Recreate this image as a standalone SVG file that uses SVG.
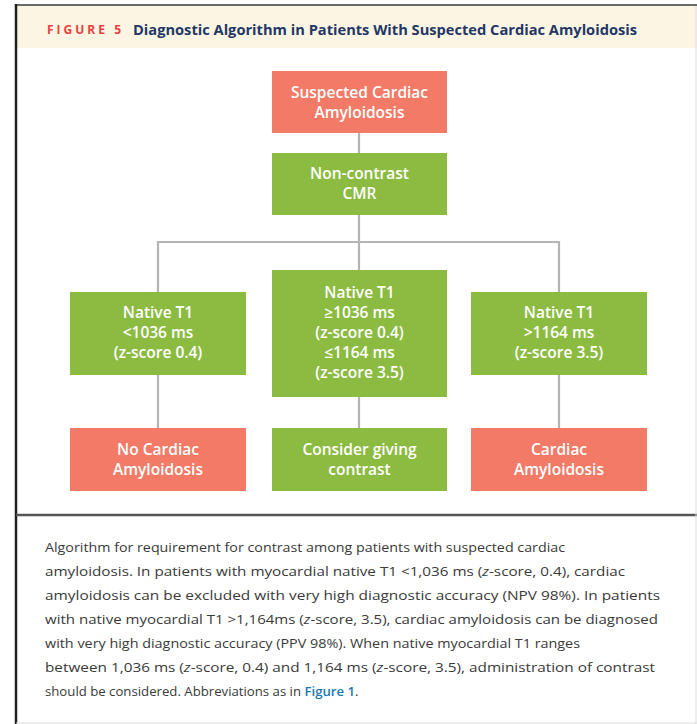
<svg xmlns="http://www.w3.org/2000/svg" width="697" height="724" viewBox="0 0 697 724">
<style>
.red{fill:#f27a67}
.grn{fill:#8cbb42}
.nt{font-family:"Open Sans","Liberation Sans",sans-serif;font-weight:600;font-size:15.5px;fill:#ffffff;text-anchor:middle}
.conn{stroke:#b4b4b4;stroke-width:2.2;fill:none}
.cap{font-family:"Open Sans","Liberation Sans",sans-serif;font-size:13.2px;fill:#3a3a3a}
.lnk{fill:#1a78b4;font-weight:600}
.it{font-style:italic}
</style>
<rect x="0" y="0" width="697" height="724" fill="#ffffff"/>
<g id="frame">
<rect x="17" y="6" width="680" height="42" fill="#fdf5e3"/>
<line x1="16" y1="5" x2="697" y2="5" stroke="#6a6a6a" stroke-width="2"/>
<line x1="16" y1="4" x2="16" y2="724" stroke="#1e1e1e" stroke-width="2.5"/>
<line x1="16" y1="515" x2="697" y2="515" stroke="#555555" stroke-width="2.5"/>
<line x1="696" y1="6" x2="696" y2="724" stroke="#dddddd" stroke-width="1"/>
<line x1="16" y1="723" x2="697" y2="723" stroke="#dddddd" stroke-width="1"/>
</g>
<g id="title">
<text x="47" y="34" font-family="'Open Sans','Liberation Sans',sans-serif" font-weight="700" font-size="12" fill="#e8403f" textLength="74" lengthAdjust="spacing">FIGURE 5</text>
<text x="133" y="34.5" font-family="'Open Sans','Liberation Sans',sans-serif" font-weight="700" font-size="13.5" fill="#1f3866" textLength="504" lengthAdjust="spacingAndGlyphs">Diagnostic Algorithm in Patients With Suspected Cardiac Amyloidosis</text>
</g>
<g id="connectors">
<line class="conn" x1="359" y1="133" x2="359" y2="153"/>
<line class="conn" x1="359" y1="215" x2="359" y2="270"/>
<polyline class="conn" points="158,292 158,242 559,242 559,292"/>
<line class="conn" x1="158" y1="375" x2="158" y2="428"/>
<line class="conn" x1="359" y1="397" x2="359" y2="428"/>
<line class="conn" x1="559" y1="375" x2="559" y2="428"/>
</g>
<g id="n-suspected">
<rect class="red" x="272" y="71" width="175" height="62"/>
<text class="nt" x="359.5" y="98">Suspected Cardiac</text>
<text class="nt" x="359.5" y="118">Amyloidosis</text>
</g>
<g id="n-noncontrast">
<rect class="grn" x="272" y="153" width="175" height="62"/>
<text class="nt" x="359.5" y="179">Non-contrast</text>
<text class="nt" x="359.5" y="199">CMR</text>
</g>
<g id="n-low">
<rect class="grn" x="70" y="292" width="176" height="83"/>
<text class="nt" x="158" y="318">Native T1</text>
<text class="nt" x="158" y="338">&lt;1036 ms</text>
<text class="nt" x="158" y="358">(z-score 0.4)</text>
</g>
<g id="n-mid">
<rect class="grn" x="272" y="270" width="175" height="127"/>
<text class="nt" x="359.5" y="298">Native T1</text>
<text class="nt" x="359.5" y="318">≥1036 ms</text>
<text class="nt" x="359.5" y="338">(z-score 0.4)</text>
<text class="nt" x="359.5" y="358">≤1164 ms</text>
<text class="nt" x="359.5" y="378">(z-score 3.5)</text>
</g>
<g id="n-high">
<rect class="grn" x="471" y="292" width="176" height="83"/>
<text class="nt" x="559" y="318">Native T1</text>
<text class="nt" x="559" y="338">&gt;1164 ms</text>
<text class="nt" x="559" y="358">(z-score 3.5)</text>
</g>
<g id="n-no">
<rect class="red" x="70" y="428" width="176" height="63"/>
<text class="nt" x="158" y="455">No Cardiac</text>
<text class="nt" x="158" y="475">Amyloidosis</text>
</g>
<g id="n-consider">
<rect class="grn" x="272" y="428" width="175" height="63"/>
<text class="nt" x="359.5" y="455">Consider giving</text>
<text class="nt" x="359.5" y="475">contrast</text>
</g>
<g id="n-yes">
<rect class="red" x="471" y="428" width="176" height="63"/>
<text class="nt" x="559" y="455">Cardiac</text>
<text class="nt" x="559" y="475">Amyloidosis</text>
</g>
<g id="caption">
<text class="cap" x="45" y="552" textLength="520" lengthAdjust="spacingAndGlyphs">Algorithm for requirement for contrast among patients with suspected cardiac</text>
<text class="cap" x="45" y="576" textLength="580" lengthAdjust="spacingAndGlyphs">amyloidosis. In patients with myocardial native T1 &lt;1,036 ms (<tspan class="it">z</tspan>-score, 0.4), cardiac</text>
<text class="cap" x="45" y="600" textLength="615" lengthAdjust="spacingAndGlyphs">amyloidosis can be excluded with very high diagnostic accuracy (NPV 98%). In patients</text>
<text class="cap" x="45" y="624" textLength="613" lengthAdjust="spacingAndGlyphs">with native myocardial T1 &gt;1,164ms (<tspan class="it">z</tspan>-score, 3.5), cardiac amyloidosis can be diagnosed</text>
<text class="cap" x="45" y="648" textLength="535" lengthAdjust="spacingAndGlyphs">with very high diagnostic accuracy (PPV 98%). When native myocardial T1 ranges</text>
<text class="cap" x="45" y="672" textLength="610" lengthAdjust="spacingAndGlyphs">between 1,036 ms (<tspan class="it">z</tspan>-score, 0.4) and 1,164 ms (<tspan class="it">z</tspan>-score, 3.5), administration of contrast</text>
<text class="cap" x="45" y="696">should be considered. Abbreviations as in <tspan class="lnk">Figure 1</tspan>.</text>
</g>
</svg>
